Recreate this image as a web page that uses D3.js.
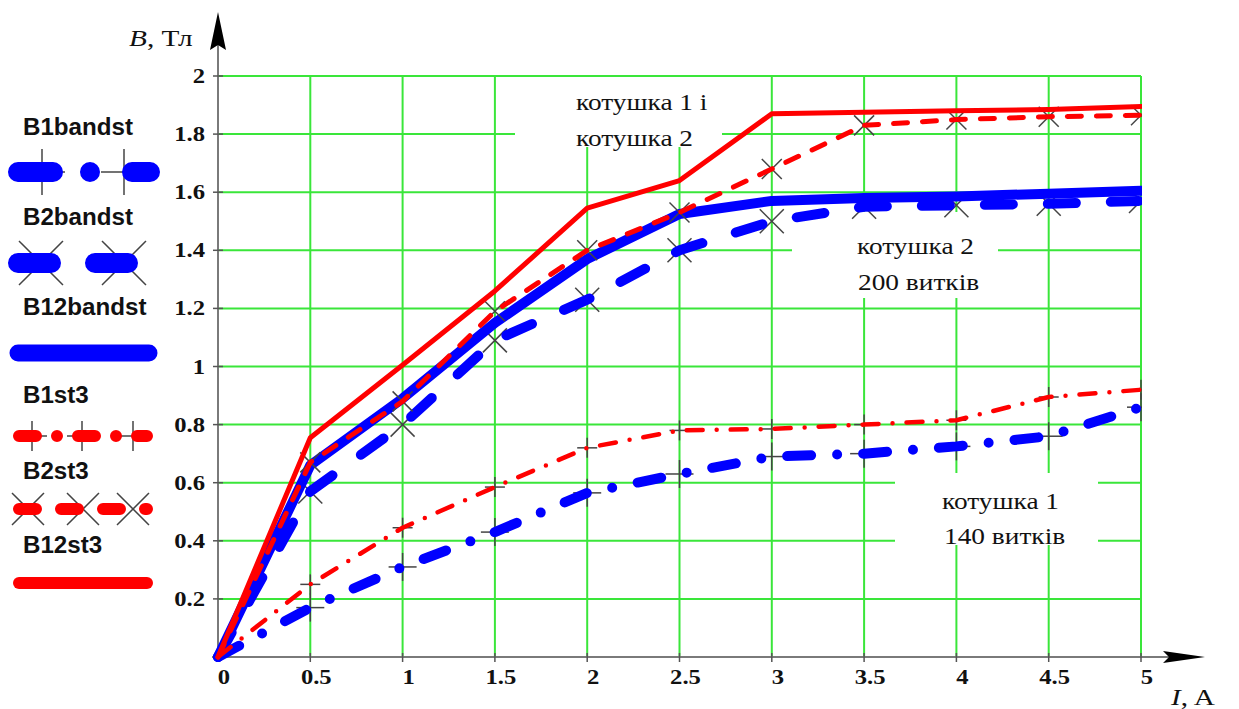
<!DOCTYPE html>
<html>
<head>
<meta charset="utf-8">
<script src="https://cdn.jsdelivr.net/npm/d3@7"></script>
<style>
  body { margin: 0; background: #fff; }
  svg { display: block; }
</style>
</head>
<body>
<div id="chart"></div>
<script>
// values: current I (A) and flux density B (T)
const current = [0, 0.5, 1, 1.5, 2, 2.5, 3, 3.5, 4, 4.5, 5];
const B1bandst = [0, 0.17, 0.31, 0.43, 0.565, 0.63, 0.69, 0.7, 0.725, 0.76, 0.86];
const B2bandst = [0, 0.57, 0.8, 1.09, 1.23, 1.4, 1.5, 1.55, 1.555, 1.56, 1.57];
const B12bandst = [0, 0.66, 0.89, 1.15, 1.37, 1.525, 1.57, 1.58, 1.585, 1.595, 1.605];
const B1st3 = [0, 0.25, 0.445, 0.585, 0.72, 0.78, 0.785, 0.8, 0.815, 0.895, 0.92];
const B2st3 = [0, 0.67, 0.88, 1.19, 1.4, 1.53, 1.68, 1.83, 1.85, 1.86, 1.865];
const B12st3 = [0, 0.755, 1.005, 1.26, 1.545, 1.64, 1.87, 1.875, 1.88, 1.885, 1.895];

const xTicks = [0, 0.5, 1, 1.5, 2, 2.5, 3, 3.5, 4, 4.5, 5];
const yTicks = [0.2, 0.4, 0.6, 0.8, 1, 1.2, 1.4, 1.6, 1.8, 2];

const width = 1239, height = 709;

const svg = d3
  .select("#chart")
  .append("svg")
  .attr("width", width)
  .attr("height", height);

const x = d3.scaleLinear().domain([0, 5]).range([218, 1141]);
const y = d3.scaleLinear().domain([0, 2]).range([657, 76]);

const blue = "#0000ff", red = "#ff0000", green = "#3ae63a", gray = "#7a7a7a";

// series settings (styles only, data comes from the arrays above)
const series = [
  { name: "B1bandst", values: B1bandst, color: blue, w: 10, dash: "24,26,0,26", marker: "plus", ms: 14 },
  { name: "B2bandst", values: B2bandst, color: blue, w: 10, dash: "28,35", marker: "x", ms: 12 },
  { name: "B12bandst", values: B12bandst, color: blue, w: 10, dash: null, marker: null },
  { name: "B1st3", values: B1st3, color: red, w: 4.5, dash: "16,14,0,14", marker: "plus", ms: 10 },
  { name: "B2st3", values: B2st3, color: red, w: 5, dash: "14,15", marker: "x", ms: 10 },
  { name: "B12st3", values: B12st3, color: red, w: 5, dash: null, marker: null }
];

// text with horizontal stretch like the original picture
function stretchText(g, px, py, txt, opts) {
  return g
    .append("text")
    .attr("transform", `translate(${px},${py}) scale(${opts.sx || 1},1)`)
    .attr("text-anchor", opts.anchor || "start")
    .style("font-family", opts.family || "'Liberation Serif', 'Times New Roman', serif")
    .style("font-size", opts.size + "px")
    .style("font-weight", opts.weight || "normal")
    .style("fill", "#111")
    .text(txt);
}

// grid
const grid = svg.append("g");
grid
  .selectAll("line.h")
  .data(yTicks)
  .join("line")
  .attr("x1", x(0))
  .attr("x2", x(5))
  .attr("y1", (d) => y(d))
  .attr("y2", (d) => y(d))
  .attr("stroke", green)
  .attr("stroke-width", 2);
grid
  .selectAll("line.v")
  .data(xTicks.filter((d) => d > 0))
  .join("line")
  .attr("class", "v")
  .attr("x1", (d) => x(d))
  .attr("x2", (d) => x(d))
  .attr("y1", y(0))
  .attr("y2", y(2))
  .attr("stroke", green)
  .attr("stroke-width", 2);

// white boxes behind the notes
const notes = [
  { box: [515, 77, 207, 70], lines: [["котушка 1 і", 576, 110], ["котушка 2", 576, 146]] },
  { box: [792, 212, 206, 86], lines: [["котушка 2", 857, 254], ["200 витків", 858, 290]] },
  { box: [895, 473, 203, 72], lines: [["котушка 1", 942, 509], ["140 витків", 944, 544]] }
];
svg
  .selectAll("rect.note")
  .data(notes)
  .join("rect")
  .attr("x", (d) => d.box[0])
  .attr("y", (d) => d.box[1])
  .attr("width", (d) => d.box[2])
  .attr("height", (d) => d.box[3])
  .attr("fill", "#fff");

// axes
const axes = svg.append("g");
axes
  .append("line")
  .attr("x1", 212)
  .attr("x2", 1170)
  .attr("y1", y(0))
  .attr("y2", y(0))
  .attr("stroke", gray)
  .attr("stroke-width", 2);
axes
  .append("line")
  .attr("x1", x(0))
  .attr("x2", x(0))
  .attr("y1", y(0) + 2)
  .attr("y2", 30)
  .attr("stroke", gray)
  .attr("stroke-width", 2);
axes
  .append("path")
  .attr("d", `M${x(0)},12 L${x(0) - 8},50 L${x(0)},45 L${x(0) + 8},50 Z`)
  .attr("fill", "#000");
axes
  .append("path")
  .attr("d", `M1205,${y(0)} L1163,${y(0) - 6} L1169,${y(0)} L1163,${y(0) + 6} Z`)
  .attr("fill", "#000");

// tick marks
axes
  .selectAll("line.yt")
  .data(yTicks)
  .join("line")
  .attr("class", "yt")
  .attr("x1", x(0) - 5)
  .attr("x2", x(0) + 5)
  .attr("y1", (d) => y(d))
  .attr("y2", (d) => y(d))
  .attr("stroke", "#555")
  .attr("stroke-width", 1.5);
axes
  .selectAll("line.xt")
  .data(xTicks)
  .join("line")
  .attr("class", "xt")
  .attr("x1", (d) => x(d))
  .attr("x2", (d) => x(d))
  .attr("y1", y(0) - 4)
  .attr("y2", y(0) + 5)
  .attr("stroke", "#555")
  .attr("stroke-width", 1.5);

// tick labels
yTicks.forEach((d) => {
  stretchText(axes, 205, y(d) + 7, String(d), { size: 22, weight: "bold", sx: 1.12, anchor: "end" });
});
xTicks.forEach((d) => {
  stretchText(axes, x(d) + 6, 684, String(d), { size: 22, weight: "bold", sx: 1.12, anchor: "middle" });
});

// axis titles
const yTitle = stretchText(axes, 129, 46, "", { size: 24, sx: 1.22 });
yTitle.append("tspan").style("font-style", "italic").text("B");
yTitle.append("tspan").text(", Тл");
const xTitle = stretchText(axes, 1171, 705, "", { size: 24, sx: 1.22 });
xTitle.append("tspan").style("font-style", "italic").text("I");
xTitle.append("tspan").text(", A");

// notes text
notes.forEach((n) => {
  n.lines.forEach((l) => stretchText(svg, l[1], l[2], l[0], { size: 24, sx: 1.14 }));
});

// plot clip
svg
  .append("clipPath")
  .attr("id", "plotClip")
  .append("rect")
  .attr("x", x(0) - 10)
  .attr("y", 40)
  .attr("width", x(5) - x(0) + 11)
  .attr("height", y(0) + 10 - 40);

const plot = svg.append("g").attr("clip-path", "url(#plotClip)");

const line = d3
  .line()
  .x((d) => x(d[0]))
  .y((d) => y(d[1]));

function drawMarker(g, type, cx, cy, s, w) {
  const pts =
    type === "plus"
      ? [[cx - s, cy, cx + s, cy], [cx, cy - s, cx, cy + s]]
      : [[cx - s, cy - s, cx + s, cy + s], [cx - s, cy + s, cx + s, cy - s]];
  pts.forEach((p) => {
    g.append("line")
      .attr("x1", p[0])
      .attr("y1", p[1])
      .attr("x2", p[2])
      .attr("y2", p[3])
      .attr("stroke", "#444")
      .attr("stroke-width", w);
  });
}

series.forEach((s) => {
  const pts = current.map((c, i) => [c, s.values[i]]);
  if (s.marker) {
    pts
      .filter((p) => p[0] > 0)
      .forEach((p) => drawMarker(plot, s.marker, x(p[0]), y(p[1]), s.ms, 1.5));
  }
  plot
    .append("path")
    .datum(pts)
    .attr("d", line)
    .attr("fill", "none")
    .attr("stroke", s.color)
    .attr("stroke-width", s.w)
    .attr("stroke-linecap", "round")
    .attr("stroke-linejoin", "round")
    .attr("stroke-dasharray", s.dash);
});

// legend on the left
const legendRows = [
  { text: 135, line: 172, x1: 18, x2: 150, w: 20, dash: "35,37,0,42", marks: [42, 124], ms: 23 },
  { text: 225, line: 263, x1: 18, x2: 147, w: 20, dash: "33,44", marks: [41, 124], ms: 22 },
  { text: 315, line: 353, x1: 18, x2: 149, w: 17, dash: null, marks: [], ms: 0 },
  { text: 403, line: 436, x1: 19, x2: 147, w: 12, dash: "17,21,0,21", marks: [32, 82, 133], ms: 15 },
  { text: 479, line: 509, x1: 19, x2: 147, w: 12, dash: "17,25", marks: [28, 83, 133], ms: 16 },
  { text: 553, line: 583, x1: 19, x2: 147, w: 12, dash: null, marks: [], ms: 0 }
];
const legend = svg.append("g");
series.forEach((s, i) => {
  const r = legendRows[i];
  stretchText(legend, 23, r.text, s.name, {
    size: 23,
    weight: "bold",
    sx: 1.05,
    family: "'Liberation Sans', Arial, sans-serif"
  });
  r.marks.forEach((m) => drawMarker(legend, s.marker, m, r.line, r.ms, 1.5));
  legend
    .append("line")
    .attr("x1", r.x1)
    .attr("x2", r.x2)
    .attr("y1", r.line)
    .attr("y2", r.line)
    .attr("stroke", s.color)
    .attr("stroke-width", r.w)
    .attr("stroke-linecap", "round")
    .attr("stroke-dasharray", r.dash);
});
</script>
</body>
</html>
